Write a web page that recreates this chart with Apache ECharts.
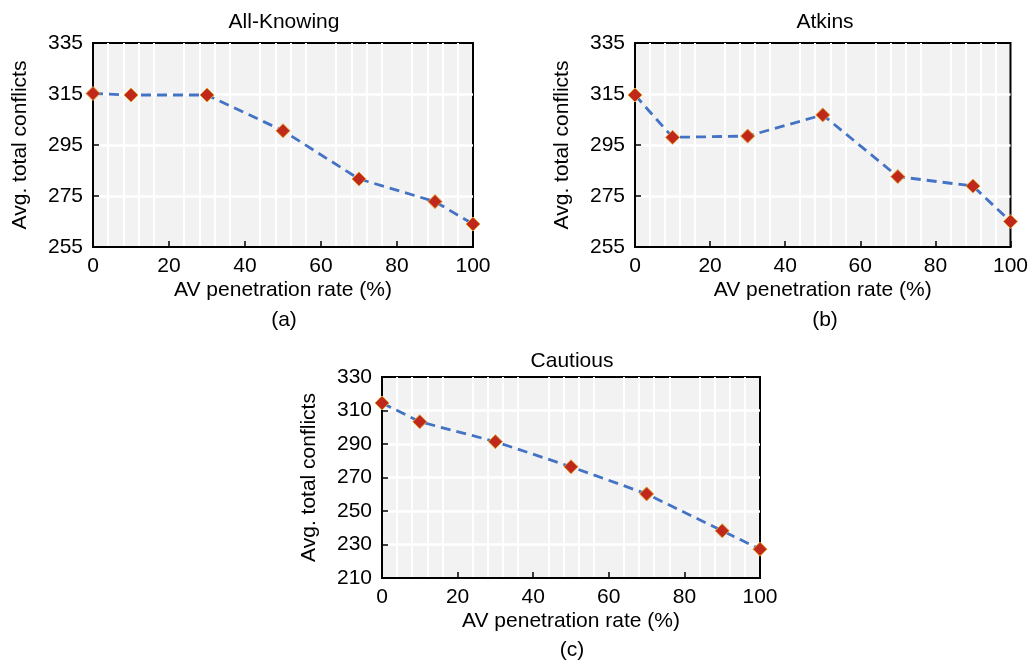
<!DOCTYPE html>
<html>
<head>
<meta charset="utf-8">
<script src="https://cdn.jsdelivr.net/npm/echarts@6/dist/echarts.min.js"></script>
<style>
  html, body { margin: 0; padding: 0; background: #fff; }
  #chart { width: 1031px; height: 661px; }
</style>
</head>
<body>
<div id="chart"></div>
<script>
// AV penetration rate (%)
const penetration = [0, 10, 30, 50, 70, 90, 100];

// avg. total conflicts per model
const allKnowing = [315.2, 314.6, 314.6, 300.6, 281.7, 272.8, 264];
const atkins = [314.6, 298, 298.5, 306.8, 282.6, 278.9, 265];
const cautious = [314.5, 303.3, 291.4, 276.4, 260.2, 238.2, 227.2];

const panelTitles = ["All-Knowing", "Atkins", "Cautious"];
const panelTags = ["(a)", "(b)", "(c)"];
const yRanges = [
  { min: 255, max: 335, interval: 20 },
  { min: 255, max: 335, interval: 20 },
  { min: 210, max: 330, interval: 20 },
];

const FONT = "Liberation Sans, Arial, sans-serif";

let chart = echarts.init(document.getElementById("chart"));

let grids = [
  { left: 93, top: 43, width: 380, height: 204 },
  { left: 635, top: 43, width: 378, height: 204 },
  { left: 382, top: 377, width: 378, height: 201 },
];

let xAxes = grids.map((g, i) => ({
  type: "value",
  gridIndex: i,
  min: 0,
  max: 100,
  interval: 20,
  name: "AV penetration rate (%)",
  nameLocation: "middle",
  nameGap: 33,
  nameTextStyle: { color: "#000", fontSize: 21, fontFamily: FONT },
  axisLine: { lineStyle: { color: "#000", width: 2 } },
  axisTick: { inside: true, length: 6, lineStyle: { color: "#000", width: 1.5 } },
  axisLabel: { color: "#000", fontSize: 21, fontFamily: FONT, margin: 9 },
  splitLine: { show: false },
  minorTick: { show: false, splitNumber: 5 },
  minorSplitLine: { show: true, lineStyle: { color: "#fff", width: 2 } },
}));

let yAxes = grids.map((g, i) => ({
  type: "value",
  gridIndex: i,
  min: yRanges[i].min,
  max: yRanges[i].max,
  interval: yRanges[i].interval,
  name: "Avg. total conflicts",
  nameLocation: "middle",
  nameGap: 62,
  nameTextStyle: { color: "#000", fontSize: 21, fontFamily: FONT },
  axisLine: { lineStyle: { color: "#000", width: 2 } },
  axisTick: { inside: true, length: 6, lineStyle: { color: "#000", width: 1.5 } },
  axisLabel: { color: "#000", fontSize: 21, fontFamily: FONT, margin: 10 },
  splitLine: {
    show: true,
    showMinLine: false,
    showMaxLine: false,
    lineStyle: { color: "#fff", width: 2.5 },
  },
}));

let seriesData = [allKnowing, atkins, cautious];
let series = seriesData.map((vals, i) => ({
  type: "line",
  xAxisIndex: i,
  yAxisIndex: i,
  data: penetration.map((p, k) => [p, vals[k]]),
  symbol: "diamond",
  symbolSize: 14,
  lineStyle: { color: "#4472c4", width: 2.8, type: [10, 6] },
  itemStyle: { color: "#c0281c", borderColor: "#e0a030", borderWidth: 1 },
  z: 5,
}));

let centers = [
  { x: 284, yTitle: 22, yTag: 320 },
  { x: 825, yTitle: 22, yTag: 320 },
  { x: 572, yTitle: 361, yTag: 650 },
];

let graphics = [];
centers.forEach((c, i) => {
  graphics.push({
    type: "text",
    x: c.x,
    y: c.yTitle,
    style: {
      text: panelTitles[i],
      fill: "#000",
      font: "21px " + FONT,
      textAlign: "center",
      textVerticalAlign: "middle",
    },
  });
  graphics.push({
    type: "text",
    x: c.x,
    y: c.yTag,
    style: {
      text: panelTags[i],
      fill: "#000",
      font: "21px " + FONT,
      textAlign: "center",
      textVerticalAlign: "middle",
    },
  });
});

chart.setOption({
  animation: false,
  grid: grids.map((g) => ({
    ...g,
    show: true,
    backgroundColor: "#f2f2f2",
    borderColor: "#000",
    borderWidth: 2,
    containLabel: false,
  })),
  xAxis: xAxes,
  yAxis: yAxes,
  series: series,
  graphic: graphics,
});
</script>
</body>
</html>
